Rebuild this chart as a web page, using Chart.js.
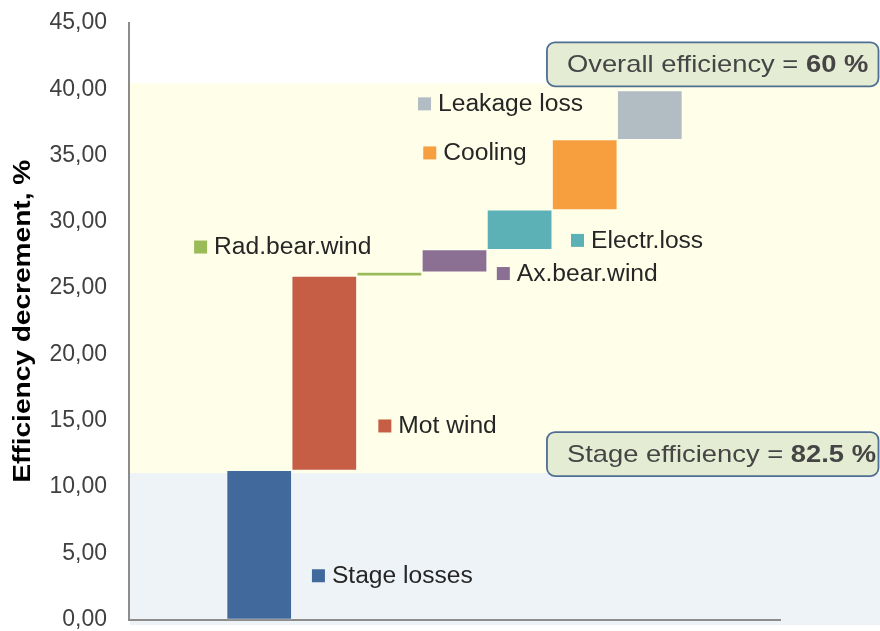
<!DOCTYPE html>
<html><head><meta charset="utf-8">
<script src="https://cdn.jsdelivr.net/npm/chart.js@4/dist/chart.umd.min.js"></script>
<style>html,body{margin:0;padding:0;background:#fff}#wrap{width:880px;height:631px;position:relative}</style>
</head><body><div id="wrap"><canvas id="c" width="880" height="631"></canvas></div>
<script>
// ---- data ----
const categories = ['Stage losses','Mot wind','Rad.bear.wind','Ax.bear.wind','Electr.loss','Cooling','Leakage loss'];
const barStart = [0, 11.25, 25.9, 26.2, 27.9, 30.9, 36.2];
const barEnd   = [11.25, 25.9, 26.2, 27.9, 30.9, 36.2, 39.9];
const barX     = [2, 3, 4, 5, 6, 7, 8];
const yTickValues = [0, 5, 10, 15, 20, 25, 30, 35, 40, 45];
const stageBoundary = 11.05;
const overallBoundary = 40.45;
const boxTexts = [['Overall efficiency = ', '60 %'], ['Stage efficiency = ', '82.5 %']];
const yTitle = 'Efficiency decrement, %';

// ---- styles / placement ----
const barColors = ['#41699B','#C55E44','#9BBB59','#8B7094','#5BB1B5','#F79F3F','#B1BCC3'];
const labelPlace = [ // x value, y value of label marker
  {x: 2.81, y: 3.3}, {x: 3.83, y: 14.6}, {x: 1.0, y: 28.1}, {x: 5.65, y: 26.1},
  {x: 6.79, y: 28.6}, {x: 4.52, y: 35.2}, {x: 4.44, y: 38.9}
];
const FONT = "'Liberation Sans', Arial, sans-serif";

function stretchedText(ctx, text, x, y, sx) {
  ctx.save(); ctx.translate(x, y); ctx.scale(sx, 1); ctx.fillText(text, 0, 0); ctx.restore();
}

const decor = {
  id: 'decor',
  beforeDraw(chart) {
    const ctx = chart.ctx, ys = chart.scales.y, a = chart.chartArea;
    const yTop = ys.getPixelForValue(overallBoundary), yMid = ys.getPixelForValue(stageBoundary);
    ctx.save();
    ctx.fillStyle = '#FFFFE9';
    ctx.fillRect(a.left + 1, yTop, chart.width - a.left - 1, yMid - yTop);
    ctx.fillStyle = '#EEF3F8';
    ctx.fillRect(a.left + 1, yMid, chart.width - a.left - 1, chart.height - 6 - yMid);
    ctx.restore();
  },
  afterDraw(chart) {
    const ctx = chart.ctx, xs = chart.scales.x, ys = chart.scales.y, a = chart.chartArea;
    ctx.save();
    // labels
    ctx.textBaseline = 'middle';
    ctx.font = '23px ' + FONT;
    categories.forEach((c, i) => {
      const px = xs.getPixelForValue(labelPlace[i].x), py = ys.getPixelForValue(labelPlace[i].y);
      ctx.fillStyle = barColors[i];
      ctx.fillRect(px, py - 6.5, 13, 13);
      ctx.fillStyle = '#262626';
      stretchedText(ctx, c, px + 20, py + 1, 1.07);
    });
    // boxes
    [overallBoundary, stageBoundary].forEach((b, i) => {
      const left = xs.getPixelForValue(6.42), right = chart.width - 1.5;
      const bottom = ys.getPixelForValue(b) + 3, top = bottom - 44;
      ctx.beginPath();
      ctx.roundRect(left, top, right - left, bottom - top, 8);
      ctx.fillStyle = '#E5ECD4';
      ctx.fill();
      ctx.lineWidth = 1.8;
      ctx.strokeStyle = '#4E6E92';
      ctx.stroke();
      const cy = (top + bottom) / 2 + 1;
      ctx.fillStyle = '#454545';
      ctx.font = '24px ' + FONT;
      const w1 = ctx.measureText(boxTexts[i][0]).width * 1.14;
      stretchedText(ctx, boxTexts[i][0], left + 20, cy, 1.14);
      ctx.font = 'bold 24px ' + FONT;
      stretchedText(ctx, boxTexts[i][1], left + 20 + w1, cy, 1.14);
    });
    // y title
    ctx.save();
    ctx.translate(23, (a.top + a.bottom) / 2);
    ctx.rotate(-Math.PI / 2);
    ctx.scale(1.17, 1);
    ctx.textAlign = 'center';
    ctx.textBaseline = 'middle';
    ctx.font = 'bold 24px ' + FONT;
    ctx.fillStyle = '#000';
    ctx.fillText(yTitle, 0, 0);
    ctx.restore();
    ctx.restore();
  }
};

new Chart(document.getElementById('c'), {
  type: 'bar',
  data: {
    datasets: [{
      data: categories.map((c, i) => ({x: barX[i], y: [barStart[i], barEnd[i]]})),
      backgroundColor: barColors,
      borderWidth: 1,
      borderColor: 'rgba(255,255,255,0.35)',
      borderSkipped: false,
      barPercentage: 1,
      categoryPercentage: 1,
      grouped: false
    }]
  },
  options: {
    responsive: false,
    animation: false,
    layout: {padding: {top: 23, right: 100, bottom: 11.5, left: 0}},
    plugins: {legend: {display: false}, tooltip: {enabled: false}},
    scales: {
      x: {
        type: 'linear', min: 0, max: 10, offset: false,
        ticks: {display: false},
        grid: {display: false, drawTicks: false, offset: false},
        border: {display: true, color: '#8C8C8C', width: 2},
        afterFit: s => { s.height = 0; s.paddingLeft = s.paddingRight = s.paddingTop = s.paddingBottom = 0; }
      },
      y: {
        min: 0, max: 45,
        afterBuildTicks: s => { s.ticks = yTickValues.map(v => ({value: v})); },
        ticks: {
          callback: v => v.toFixed(2).replace('.', ','),
          font: {family: FONT, size: 23},
          color: '#404040',
          padding: 22
        },
        grid: {display: false, drawTicks: false},
        border: {display: true, color: '#8C8C8C', width: 2},
        afterFit: s => { s.width = 129; s.paddingTop = s.paddingBottom = s.paddingLeft = s.paddingRight = 0; }
      }
    }
  },
  plugins: [decor]
});
</script></body></html>
